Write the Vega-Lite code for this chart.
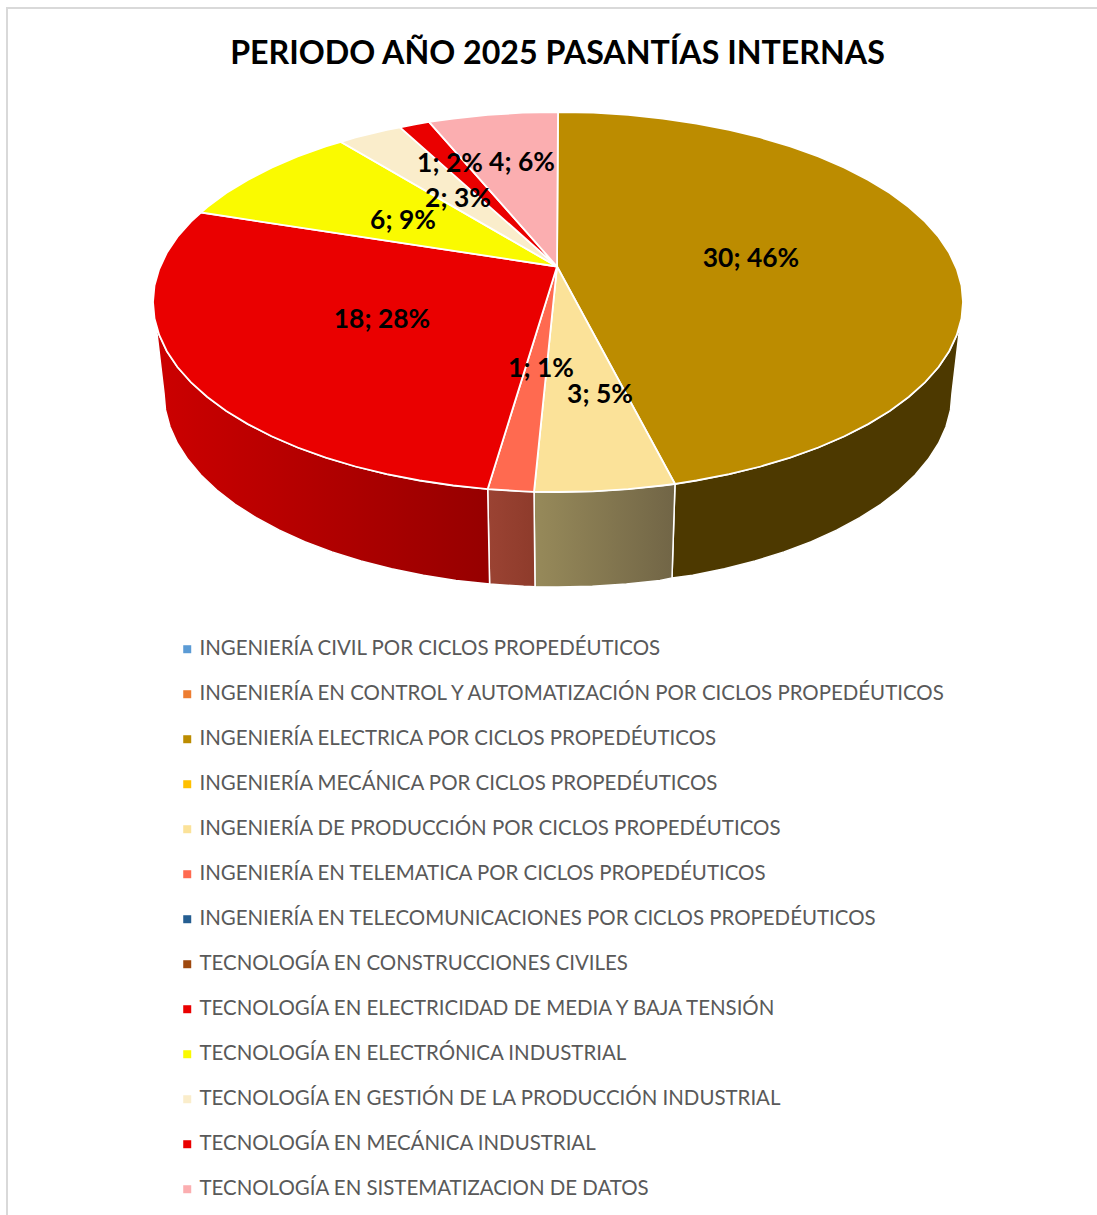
{"$schema":"https://vega.github.io/schema/vega-lite/v6.json","width":1097,"height":1215,"padding":0,"autosize":"none","background":"white","config":{"view":{"stroke":null},"font":"Lato"},
"title":{"text":"PERIODO AÑO 2025 PASANTÍAS INTERNAS","font":"Lato","fontSize":32.2,"fontWeight":"bold","color":"#000000","anchor":"middle","offset":0,"dy":71,"dx":9},
"projection":{"type":"identity","scale":1,"translate":[0,0]},
"datasets":{
"marco":[{"nombre":"marco","geometry":{"type":"Polygon","coordinates":[[[7,8],[1115,8],[1115,1235],[7,1235],[7,8]]]}}],
"paredes":[
{"programa":"ELECTRICA","geometry":{"type":"Polygon","coordinates":[[[960,325],[956.8,335],[949.2,351.2],[938.6,367],[925,382.3],[908.7,397],[889.8,411],[868.2,424.1],[844.4,436.3],[818.3,447.5],[790.3,457.6],[760.5,466.5],[729.2,474.2],[696.5,480.5],[675,484],[672,578],[692.7,575.3],[724.5,568.8],[755,561],[784,551.9],[811.3,541.6],[836.6,530.2],[859.8,517.7],[880.8,504.3],[899.2,490],[915.1,475],[928.2,459.3],[938.6,443.2],[946,426.7],[950.5,409.9],[952,393],[960,325]]]}},
{"programa":"PRODUCCION","geometry":{"type":"Polygon","coordinates":[[[675,484],[662.8,485.5],[628.3,489.1],[593.3,491.3],[558,492],[534,491.8],[535,586.7],[558,587],[592.4,586.3],[626.4,584],[660,580.4],[672,578],[675,484]]]}},
{"programa":"TELEMATICA","geometry":{"type":"Polygon","coordinates":[[[534,491.8],[522.7,491.3],[487.7,489.1],[489.6,584],[523.6,586.3],[535,586.7],[534,491.8]]]}},
{"programa":"ELECTRICIDAD","geometry":{"type":"Polygon","coordinates":[[[487.7,489.1],[453.2,485.5],[419.5,480.5],[386.8,474.2],[355.5,466.5],[325.7,457.6],[297.7,447.5],[271.6,436.3],[247.8,424.1],[226.2,411],[207.3,397],[191,382.3],[177.4,367],[166.8,351.2],[159.2,335],[156,325],[164,393],[165.5,409.9],[170,426.7],[177.4,443.2],[187.8,459.3],[200.9,475],[216.8,490],[235.2,504.3],[256.2,517.7],[279.4,530.2],[304.7,541.6],[332,551.9],[361,561],[391.5,568.8],[423.3,575.3],[456,580.4],[489.6,584],[487.7,489.1]]]}}
],
"sectores":[
{"programa":"INGENIERÍA ELECTRICA POR CICLOS PROPEDÉUTICOS","valor":30,"geometry":{"type":"Polygon","coordinates":[[[557,266.5],[558,112],[593.3,112.7],[628.3,114.9],[662.8,118.5],[696.5,123.5],[729.2,129.8],[760.5,137.5],[790.3,146.4],[818.3,156.5],[844.4,167.7],[868.2,179.9],[889.8,193],[908.7,207],[925,221.7],[938.6,237],[949.2,252.8],[956.8,269],[961.5,285.4],[963,302],[961.5,318.6],[956.8,335],[949.2,351.2],[938.6,367],[925,382.3],[908.7,397],[889.8,411],[868.2,424.1],[844.4,436.3],[818.3,447.5],[790.3,457.6],[760.5,466.5],[729.2,474.2],[696.5,480.5],[675,484],[557,266.5]]]}},
{"programa":"INGENIERÍA DE PRODUCCIÓN POR CICLOS PROPEDÉUTICOS","valor":3,"geometry":{"type":"Polygon","coordinates":[[[557,266.5],[675,484],[662.8,485.5],[628.3,489.1],[593.3,491.3],[558,492],[534,491.8],[557,266.5]]]}},
{"programa":"INGENIERÍA EN TELEMATICA POR CICLOS PROPEDÉUTICOS","valor":1,"geometry":{"type":"Polygon","coordinates":[[[557,266.5],[534,491.8],[522.7,491.3],[487.7,489.1],[557,266.5]]]}},
{"programa":"TECNOLOGÍA EN ELECTRICIDAD DE MEDIA Y BAJA TENSIÓN","valor":18,"geometry":{"type":"Polygon","coordinates":[[[557,266.5],[487.7,489.1],[453.2,485.5],[419.5,480.5],[386.8,474.2],[355.5,466.5],[325.7,457.6],[297.7,447.5],[271.6,436.3],[247.8,424.1],[226.2,411],[207.3,397],[191,382.3],[177.4,367],[166.8,351.2],[159.2,335],[154.5,318.6],[153,302],[154.5,285.4],[159.2,269],[166.8,252.8],[177.4,237],[191,221.7],[201,212.5],[557,266.5]]]}},
{"programa":"TECNOLOGÍA EN ELECTRÓNICA INDUSTRIAL","valor":6,"geometry":{"type":"Polygon","coordinates":[[[557,266.5],[201,212.5],[207.3,207],[226.2,193],[247.8,179.9],[271.6,167.7],[297.7,156.5],[325.7,146.4],[341,142],[557,266.5]]]}},
{"programa":"TECNOLOGÍA EN GESTIÓN DE LA PRODUCCIÓN INDUSTRIAL","valor":2,"geometry":{"type":"Polygon","coordinates":[[[557,266.5],[341,142],[355.5,137.5],[386.8,129.8],[400,127.3],[557,266.5]]]}},
{"programa":"TECNOLOGÍA EN MECÁNICA INDUSTRIAL","valor":1,"geometry":{"type":"Polygon","coordinates":[[[557,266.5],[400,127.3],[415,124.3],[429,121.9],[557,266.5]]]}},
{"programa":"TECNOLOGÍA EN SISTEMATIZACION DE DATOS","valor":4,"geometry":{"type":"Polygon","coordinates":[[[557,266.5],[429,121.9],[453.2,118.5],[487.7,114.9],[522.7,112.7],[558,112],[557,266.5]]]}}
],
"etiquetas":[
{"etiqueta":"30; 46%","lon":751,"lat":258},
{"etiqueta":"3; 5%","lon":600,"lat":394},
{"etiqueta":"1; 1%","lon":541,"lat":368},
{"etiqueta":"18; 28%","lon":382,"lat":319},
{"etiqueta":"6; 9%","lon":403,"lat":220},
{"etiqueta":"2; 3%","lon":458,"lat":198},
{"etiqueta":"1; 2%","lon":450,"lat":163},
{"etiqueta":"4; 6%","lon":522,"lat":162}
]},
"layer":[
{"data":{"name":"marco"},"mark":{"type":"geoshape","fill":"#ffffff","stroke":"#d9d9d9","strokeWidth":2},"encoding":{"shape":{"field":"geometry","type":"geojson"}}},
{"data":{"name":"paredes"},"transform":[{"filter":"datum.programa==='ELECTRICA'"}],"mark":{"type":"geoshape","fill":"#4d3900","stroke":"#ffffff","strokeWidth":1.5},"encoding":{"shape":{"field":"geometry","type":"geojson"}}},
{"data":{"name":"paredes"},"transform":[{"filter":"datum.programa==='PRODUCCION'"}],"mark":{"type":"geoshape","fill":{"gradient":"linear","x1":0,"y1":0,"x2":1,"y2":0,"stops":[{"offset":0,"color":"#978a5a"},{"offset":1,"color":"#716546"}]},"stroke":"#ffffff","strokeWidth":1.5},"encoding":{"shape":{"field":"geometry","type":"geojson"}}},
{"data":{"name":"paredes"},"transform":[{"filter":"datum.programa==='TELEMATICA'"}],"mark":{"type":"geoshape","fill":{"gradient":"linear","x1":0,"y1":0,"x2":1,"y2":0,"stops":[{"offset":0,"color":"#9b4333"},{"offset":1,"color":"#8e3b2b"}]},"stroke":"#ffffff","strokeWidth":1.5},"encoding":{"shape":{"field":"geometry","type":"geojson"}}},
{"data":{"name":"paredes"},"transform":[{"filter":"datum.programa==='ELECTRICIDAD'"}],"mark":{"type":"geoshape","fill":{"gradient":"linear","x1":0,"y1":0,"x2":1,"y2":0,"stops":[{"offset":0,"color":"#cc0000"},{"offset":1,"color":"#960000"}]},"stroke":"#ffffff","strokeWidth":1.5},"encoding":{"shape":{"field":"geometry","type":"geojson"}}},
{"data":{"name":"sectores"},"mark":{"type":"geoshape","stroke":"#ffffff","strokeWidth":1.8},"encoding":{"shape":{"field":"geometry","type":"geojson"},"color":{"field":"programa","type":"nominal","sort":null,
"scale":{"domain":["INGENIERÍA CIVIL POR CICLOS PROPEDÉUTICOS","INGENIERÍA EN CONTROL Y AUTOMATIZACIÓN POR CICLOS PROPEDÉUTICOS","INGENIERÍA ELECTRICA POR CICLOS PROPEDÉUTICOS","INGENIERÍA MECÁNICA POR CICLOS PROPEDÉUTICOS","INGENIERÍA DE PRODUCCIÓN POR CICLOS PROPEDÉUTICOS","INGENIERÍA EN TELEMATICA POR CICLOS PROPEDÉUTICOS","INGENIERÍA EN TELECOMUNICACIONES POR CICLOS PROPEDÉUTICOS","TECNOLOGÍA EN CONSTRUCCIONES CIVILES","TECNOLOGÍA EN ELECTRICIDAD DE MEDIA Y BAJA TENSIÓN","TECNOLOGÍA EN ELECTRÓNICA INDUSTRIAL","TECNOLOGÍA EN GESTIÓN DE LA PRODUCCIÓN INDUSTRIAL","TECNOLOGÍA EN MECÁNICA INDUSTRIAL","TECNOLOGÍA EN SISTEMATIZACION DE DATOS"],
"range":["#5b9bd5","#ed7d31","#bc8c00","#ffc000","#fbe299","#ff6a50","#255e91","#9e480e","#ea0000","#fafa00","#faedcb","#ea0000","#fbaeb0"]},
"legend":{"title":null,"orient":"none","legendX":177,"legendY":639,"symbolType":"square","symbolSize":64,"symbolStrokeWidth":0,"symbolOpacity":1,"labelFont":"Lato","labelFontSize":20.45,"labelColor":"#595959","labelLimit":900,"labelOffset":2,"rowPadding":24,"direction":"vertical","values":["INGENIERÍA CIVIL POR CICLOS PROPEDÉUTICOS","INGENIERÍA EN CONTROL Y AUTOMATIZACIÓN POR CICLOS PROPEDÉUTICOS","INGENIERÍA ELECTRICA POR CICLOS PROPEDÉUTICOS","INGENIERÍA MECÁNICA POR CICLOS PROPEDÉUTICOS","INGENIERÍA DE PRODUCCIÓN POR CICLOS PROPEDÉUTICOS","INGENIERÍA EN TELEMATICA POR CICLOS PROPEDÉUTICOS","INGENIERÍA EN TELECOMUNICACIONES POR CICLOS PROPEDÉUTICOS","TECNOLOGÍA EN CONSTRUCCIONES CIVILES","TECNOLOGÍA EN ELECTRICIDAD DE MEDIA Y BAJA TENSIÓN","TECNOLOGÍA EN ELECTRÓNICA INDUSTRIAL","TECNOLOGÍA EN GESTIÓN DE LA PRODUCCIÓN INDUSTRIAL","TECNOLOGÍA EN MECÁNICA INDUSTRIAL","TECNOLOGÍA EN SISTEMATIZACION DE DATOS"]}}}},
{"data":{"name":"etiquetas"},"mark":{"type":"text","font":"Lato","fontSize":26.4,"fontWeight":"bold","color":"#000000","align":"center","baseline":"middle","dy":1},"encoding":{"longitude":{"field":"lon","type":"quantitative"},"latitude":{"field":"lat","type":"quantitative"},"text":{"field":"etiqueta","type":"nominal"}}}
]}
